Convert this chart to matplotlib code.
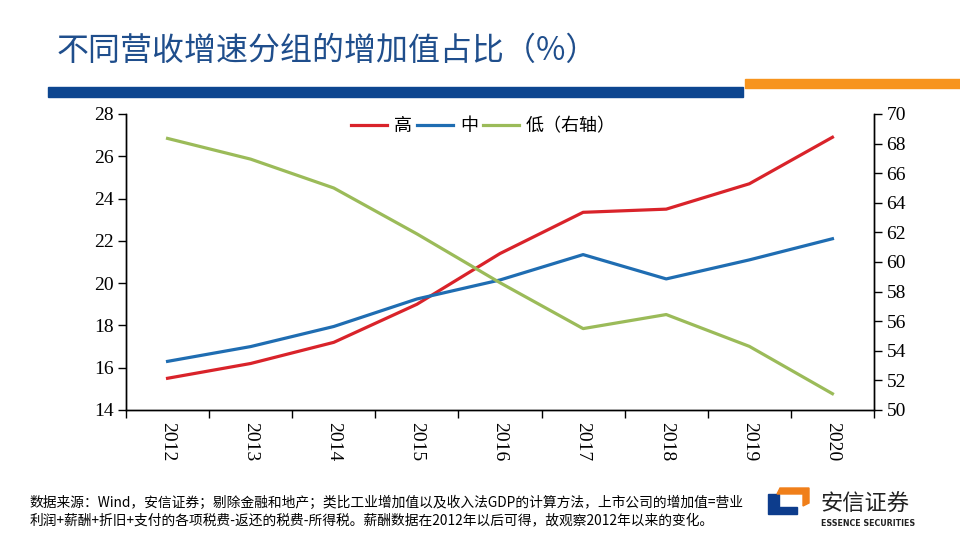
import matplotlib
matplotlib.use("Agg")
import matplotlib.pyplot as plt
from matplotlib.patches import Rectangle, Polygon

plt.rcParams['font.family'] = ['Noto Sans CJK SC', 'DejaVu Sans']

years = ["2012", "2013", "2014", "2015", "2016", "2017", "2018", "2019", "2020"]
high = [15.5, 16.2, 17.2, 19.0, 21.4, 23.35, 23.5, 24.7, 26.9]
mid = [16.3, 17.0, 17.95, 19.25, 20.15, 21.35, 20.2, 21.1, 22.1]
low = [68.35, 66.95, 65.0, 61.9, 58.6, 55.5, 56.45, 54.3, 51.1]

left_ticks = [14, 16, 18, 20, 22, 24, 26, 28]
right_ticks = [50, 52, 54, 56, 58, 60, 62, 64, 66, 68, 70]

RED = "#D9232A"
BLUE = "#1F6DB2"
GREEN = "#9BBB59"
SERIF = "Liberation Serif"

fig = plt.figure(figsize=(9.6, 5.4), dpi=100)
fig.patch.set_facecolor("white")

# Title and header bars
fig.text(57 / 960, 1 - 51 / 540, "不同营收增速分组的增加值占比（%）", fontsize=23,
         color="#1F4E8C", va="center", ha="left")
fig.patches.append(Rectangle((48 / 960, 1 - 97 / 540), (743 - 48) / 960, 10 / 540,
                             transform=fig.transFigure, color="#0D4690", zorder=1))
fig.patches.append(Rectangle((745 / 960, 1 - 88 / 540), (960 - 745) / 960, 9 / 540,
                             transform=fig.transFigure, color="#F7941D", zorder=1))

ax = fig.add_axes([126 / 960, 1 - 410 / 540, (874 - 126) / 960, (410 - 114) / 540])
ax2 = ax.twinx()

x = list(range(len(years)))
l1, = ax.plot(x, high, color=RED, lw=2.3, label="高")
l2, = ax.plot(x, mid, color=BLUE, lw=2.3, label="中")
l3, = ax2.plot(x, low, color=GREEN, lw=2.3, label="低（右轴）")

ax.set_xlim(-0.5, len(years) - 0.5)
ax.set_ylim(14, 28)
ax2.set_ylim(50, 70)
ax.set_yticks(left_ticks)
ax.set_yticklabels([str(t) for t in left_ticks], fontfamily=SERIF, fontsize=14)
ax2.set_yticks(right_ticks)
ax2.set_yticklabels([str(t) for t in right_ticks], fontfamily=SERIF, fontsize=14)

ax.set_xticks([i - 0.5 for i in range(len(years) + 1)])
ax.set_xticklabels([])
ax.set_xticks(x, minor=True)
ax.set_xticklabels(years, minor=True, rotation=-90, fontfamily=SERIF, fontsize=14)
ax.tick_params(axis='x', which='major', direction='out', length=6, width=1)
ax.tick_params(axis='x', which='minor', length=0, pad=9)
ax.tick_params(axis='y', direction='out', length=6, width=1, pad=3)
ax2.tick_params(axis='y', direction='out', length=6, width=1, pad=3)

for a in (ax, ax2):
    a.spines['top'].set_visible(False)
    for s in ('left', 'right', 'bottom'):
        a.spines[s].set_linewidth(1)
        a.spines[s].set_color("black")

leg = ax.legend(handles=[l1, l2, l3], loc="upper center", bbox_to_anchor=(0.478, 1.025),
                ncol=3, frameon=False, fontsize=13, handlelength=2.0,
                columnspacing=0.25, handletextpad=0.4, borderaxespad=0.2)

# Footnote
fig.text(30 / 960, 1 - 503 / 540,
         "数据来源：Wind，安信证券；剔除金融和地产；类比工业增加值以及收入法GDP的计算方法，上市公司的增加值=营业",
         fontsize=9.9, va="center", ha="left", color="black")
fig.text(30 / 960, 1 - 520 / 540,
         "利润+薪酬+折旧+支付的各项税费-返还的税费-所得税。薪酬数据在2012年以后可得，故观察2012年以来的变化。",
         fontsize=9.9, va="center", ha="left", color="black")

# Logo
def fx(px):
    return px / 960

def fy(py):
    return 1 - py / 540

blue_L = [(768, 494), (779, 494), (779, 507), (797, 507), (797, 514), (768, 514)]
fig.patches.append(Polygon([(fx(a), fy(b)) for a, b in blue_L], closed=True,
                           transform=fig.transFigure, color="#0D3C8C"))
orange_piece = [(780, 488), (809, 488), (809, 503), (803, 506), (803, 494), (777, 494)]
fig.patches.append(Polygon([(fx(a), fy(b)) for a, b in orange_piece], closed=True,
                           transform=fig.transFigure, color="#F07F1A"))
fig.text(fx(820), fy(504), "安信证券", fontsize=16, va="center", ha="left", color="#222222")
fig.text(fx(821), fy(523), "ESSENCE SECURITIES", fontsize=5.7, va="center", ha="left",
         color="#222222", fontfamily="DejaVu Sans", fontweight="bold")

fig.savefig("out.png", dpi=100, facecolor="white")
